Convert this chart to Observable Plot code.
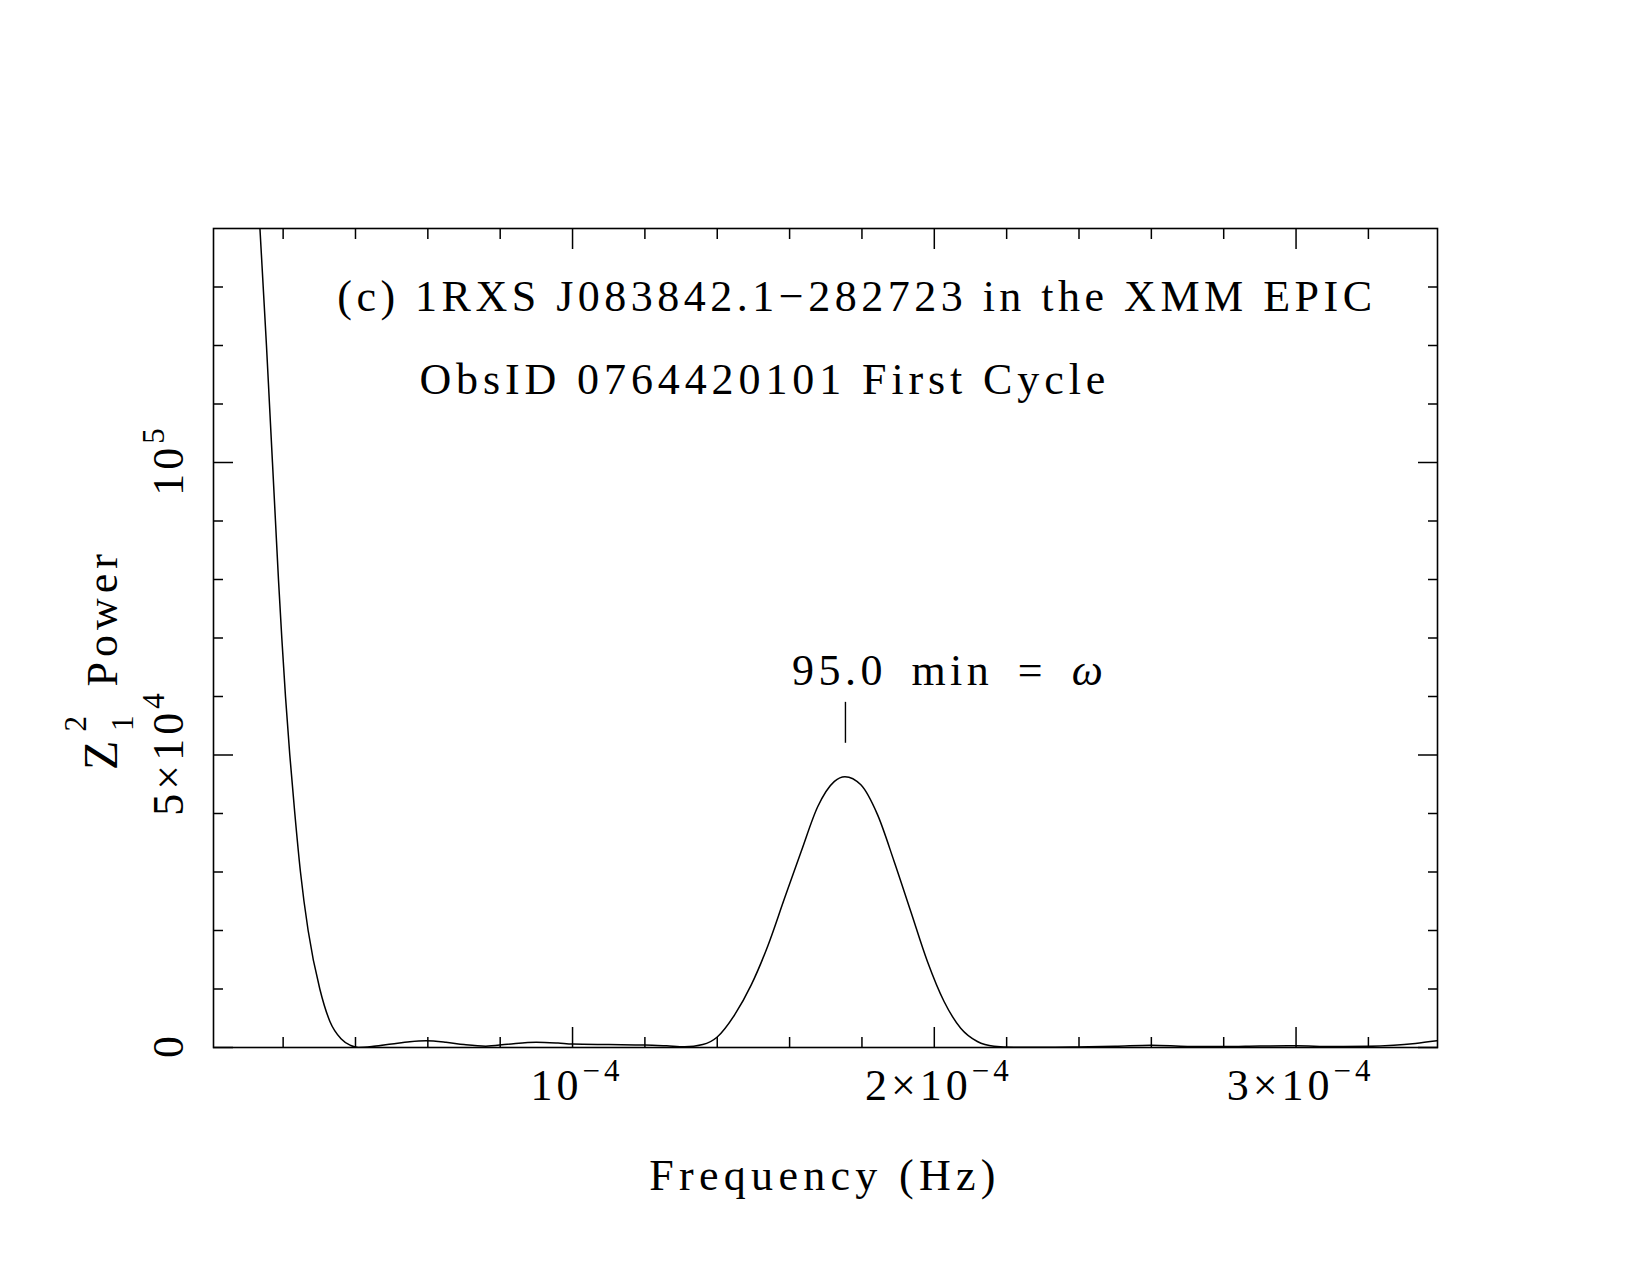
<!DOCTYPE html>
<html>
<head>
<meta charset="utf-8">
<script src="https://cdn.jsdelivr.net/npm/d3@7"></script>
<script src="https://cdn.jsdelivr.net/npm/@observablehq/plot@0.6"></script>
<style>
  body { margin: 0; background: #fff; }
  svg text { font-family: "Liberation Serif", "DejaVu Serif", serif; fill: #000; }
</style>
</head>
<body>
<div id="chart"></div>
<script>
// Z_1^2 periodogram of 1RXS J083842.1-282723, XMM EPIC ObsID 0764420101, first cycle
const frequency = [
  1.300e-5, 1.355e-5, 1.447e-5, 1.539e-5, 1.622e-5, 1.705e-5, 1.788e-5, 1.871e-5,
  1.963e-5, 2.065e-5, 2.184e-5, 2.323e-5, 2.479e-5, 2.691e-5, 3.014e-5, 3.290e-5,
  3.600e-5, 3.850e-5, 4.080e-5, 4.500e-5, 5.000e-5, 5.500e-5, 5.950e-5, 6.500e-5,
  7.000e-5, 7.600e-5, 8.200e-5, 9.000e-5, 9.600e-5, 1.000e-4, 1.100e-4, 1.200e-4,
  1.260e-4, 1.310e-4, 1.360e-4, 1.400e-4, 1.448e-4, 1.494e-4, 1.540e-4, 1.586e-4,
  1.632e-4, 1.678e-4, 1.724e-4, 1.753e-4, 1.797e-4, 1.843e-4, 1.889e-4, 1.935e-4,
  1.981e-4, 2.027e-4, 2.073e-4, 2.119e-4, 2.165e-4, 2.220e-4, 2.300e-4, 2.400e-4,
  2.500e-4, 2.600e-4, 2.700e-4, 2.800e-4, 2.900e-4, 3.000e-4, 3.100e-4, 3.200e-4,
  3.270e-4, 3.330e-4, 3.390e-4
];
const power = [
  146000, 140400, 130200, 120000, 110000, 100000, 90000, 80000,
  70000, 60000, 50000, 40000, 30000, 20000, 10000, 4500,
  1500, 400, 20, 200, 600, 1000, 1150, 900,
  500, 230, 550, 900, 750, 580, 500, 430,
  280, 120, 500, 1800, 5580, 10700, 17400, 25500,
  33500, 41200, 45500, 46300, 44900, 39800, 31800, 23250,
  14700, 7860, 3300, 1030, 230, 60, 40, 100,
  200, 380, 180, 150, 250, 300, 160, 200,
  380, 700, 1150
];

// axis ticks and their labels (mantissa, exponent)
const xMajorTicks = [1e-4, 2e-4, 3e-4];
const xMinorTicks = [2e-5, 4e-5, 6e-5, 8e-5, 1.2e-4, 1.4e-4, 1.6e-4, 1.8e-4,
                     2.2e-4, 2.4e-4, 2.6e-4, 2.8e-4, 3.2e-4];
const xTickLabels = [["10", "\u22124"], ["2\u00d710", "\u22124"], ["3\u00d710", "\u22124"]];
const yMajorTicks = [0, 5e4, 1e5];
const yMinorTicks = [1e4, 2e4, 3e4, 4e4, 6e4, 7e4, 8e4, 9e4, 1.1e5, 1.2e5, 1.3e5];
const yTickLabels = [["0", ""], ["5\u00d710", "4"], ["10", "5"]];

// annotations
const titleLines = ["(c) 1RXS J083842.1\u2212282723 in the XMM EPIC", "ObsID 0764420101 First Cycle"];
const periodMinutes = 95.0;
const periodLabel = "95.0 min = ";
const periodSymbol = "\u03c9";

const periodFrequency = 1 / (periodMinutes * 60);
const curve = frequency.map((f, i) => ({f, p: power[i]}));

const ink = "#000";
const tickStyle = {tickFormat: () => "", label: null, strokeWidth: 1.5};
const plot = Plot.plot({
  width: 1650,
  height: 1275,
  marginLeft: 213,
  marginRight: 213,
  marginTop: 228,
  marginBottom: 228,
  style: {background: "#fff", color: ink},
  x: {domain: [7.5e-7, 3.391e-4]},
  y: {domain: [0, 140000]},
  marks: [
    Plot.line(curve, {x: "f", y: "p", stroke: ink, strokeWidth: 1.5, curve: "monotone-x", clip: true}),
    Plot.ruleX([periodFrequency], {x: d => d, y1: 52000, y2: 59000, stroke: ink, strokeWidth: 1.4}),
    // inward ticks on all four sides
    Plot.axisX({ticks: xMajorTicks, anchor: "bottom", tickSize: -20, ...tickStyle}),
    Plot.axisX({ticks: xMinorTicks, anchor: "bottom", tickSize: -10, ...tickStyle}),
    Plot.axisX({ticks: xMajorTicks, anchor: "top", tickSize: -20, ...tickStyle}),
    Plot.axisX({ticks: xMinorTicks, anchor: "top", tickSize: -10, ...tickStyle}),
    Plot.axisY({ticks: yMajorTicks, anchor: "left", tickSize: -20, ...tickStyle}),
    Plot.axisY({ticks: yMinorTicks, anchor: "left", tickSize: -10, ...tickStyle}),
    Plot.axisY({ticks: yMajorTicks, anchor: "right", tickSize: -20, ...tickStyle}),
    Plot.axisY({ticks: yMinorTicks, anchor: "right", tickSize: -10, ...tickStyle}),
    Plot.frame({stroke: ink, strokeWidth: 1.6})
  ]
});
document.getElementById("chart").appendChild(plot);

// rich text (exponents, subscripts) placed with the plot's own scales
const sx = plot.scale("x");
const sy = plot.scale("y");
const frameLeft = sx.apply(sx.domain[0]);
const frameRight = sx.apply(sx.domain[1]);
const frameBottom = sy.apply(0);
const frameTop = sy.apply(sy.domain[1]);
const layer = d3.select(plot).append("g");

function richText(parts, {x, y, anchor = "middle", rotate = 0, size = 44, spacing = 4.5, wordSpacing = 0}) {
  const t = layer.append("text")
    .attr("transform", `translate(${x},${y})` + (rotate ? ` rotate(${rotate})` : ""))
    .attr("text-anchor", anchor)
    .attr("font-size", size)
    .style("letter-spacing", `${spacing}px`)
    .style("word-spacing", `${wordSpacing}px`)
    .style("white-space", "pre");
  for (const p of parts) {
    const s = t.append("tspan").text(p.text);
    if (p.size) s.attr("font-size", p.size);
    if (p.dx) s.attr("dx", p.dx);
    if (p.dy) s.attr("dy", p.dy);
    if (p.italic) s.attr("font-style", "italic");
  }
  return t;
}

// x tick labels
xMajorTicks.forEach((v, i) => {
  const [m, e] = xTickLabels[i];
  richText([{text: m}, {text: e, size: 31, dy: -19}], {x: sx.apply(v) + 5, y: frameBottom + 53, size: 44, spacing: 4});
});
// y tick labels, rotated
yMajorTicks.forEach((v, i) => {
  const [m, e] = yTickLabels[i];
  const parts = [{text: m}];
  if (e) parts.push({text: e, size: 31, dy: -19});
  richText(parts, {x: frameLeft - 30, y: sy.apply(v) - 2, rotate: -90, size: 44, spacing: 4});
});

// axis titles
richText([{text: "Frequency (Hz)"}], {x: (frameLeft + frameRight) / 2, y: frameBottom + 143, spacing: 5.3});
richText([
  {text: "Z", size: 48},
  {text: "2", size: 31, dx: 4, dy: -31},
  {text: "1", size: 31, dx: -20, dy: 47},
  {text: " Power", dx: 8, dy: -16}
], {x: frameLeft - 96, y: (frameTop + frameBottom) / 2 + 22, rotate: -90, spacing: 5});

// panel title
richText([{text: titleLines[0]}], {x: sx.apply(3.51e-5), y: sy.apply(125800), anchor: "start"});
richText([{text: titleLines[1]}], {x: sx.apply(5.78e-5), y: sy.apply(111700), anchor: "start", spacing: 4.9});

// period annotation
richText([{text: periodLabel}, {text: periodSymbol, italic: true}],
  {x: sx.apply(1.6077e-4), y: sy.apply(61800), anchor: "start", wordSpacing: 9});
</script>
</body>
</html>
